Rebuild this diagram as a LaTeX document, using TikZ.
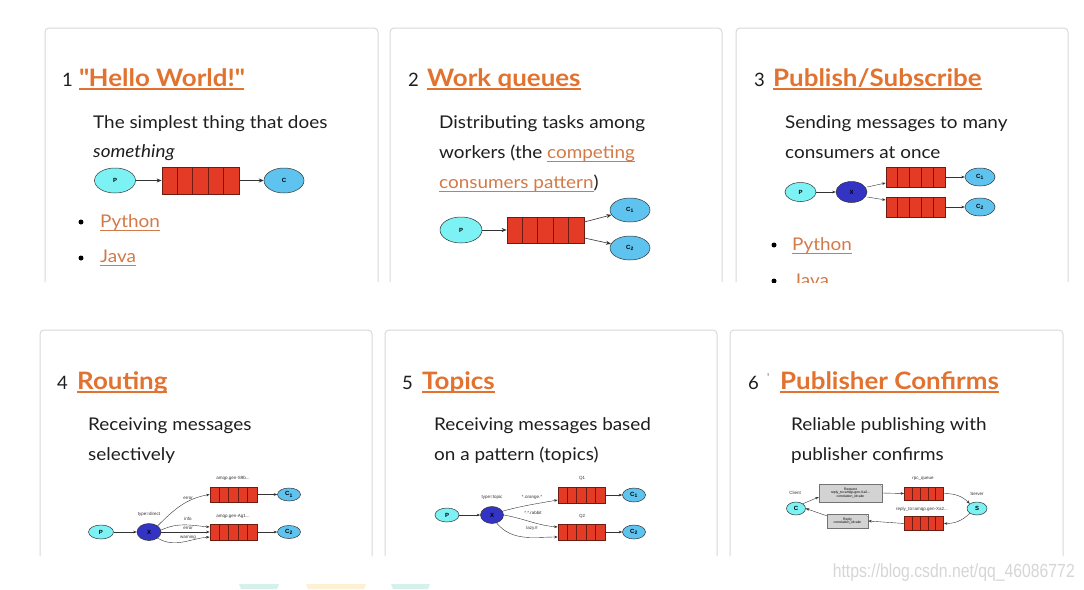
\documentclass[tikz,border=0pt]{standalone}
\usepackage{fontspec}
\setmainfont{Lato}
\newfontfamily\widefont[FakeStretch=1.08]{Lato}
\newfontfamily\dgfont{Liberation Sans}
\newfontfamily\wmfont{Liberation Sans}
\usetikzlibrary{shapes.geometric,arrows.meta,calc}
\definecolor{orangeT}{HTML}{E2722F}
\definecolor{linkc}{HTML}{D27A48}
\definecolor{bodyc}{HTML}{1E1E1E}
\definecolor{panelb}{HTML}{D9D9D9}
\definecolor{pcyan}{HTML}{7DF2F5}
\definecolor{cblue}{HTML}{5EC3EE}
\definecolor{qred}{HTML}{E43B27}
\definecolor{qborder}{HTML}{6E1C12}
\definecolor{xblue}{HTML}{3434C4}
\definecolor{dgline}{HTML}{333333}
\definecolor{boxgray}{HTML}{D3D3D3}
\definecolor{wmc}{HTML}{D6D6D6}
\definecolor{tealA}{HTML}{D4F1EC}
\definecolor{yelA}{HTML}{FDF0D3}
\newcommand\ultitle[1]{\setbox0\hbox{#1}\rlap{\rule[-3.5pt]{\wd0}{1.8pt}}\box0}
\newcommand\ullink[1]{\setbox0\hbox{#1}\rlap{\rule[-3.5pt]{\wd0}{0.9pt}}\box0}
\begin{document}
\begin{tikzpicture}[x=1pt,y=-1pt,
 panel/.style={draw=panelb, line width=1pt, rounded corners=4pt},
 num/.style={anchor=base west, inner sep=0, font=\fontsize{18.5}{22}\selectfont, text=bodyc},
 title/.style={anchor=base west, inner sep=0, font=\widefont\fontsize{24}{26}\selectfont\bfseries, text=orangeT},
 body/.style={anchor=base west, inner sep=0, font=\widefont\fontsize{17.5}{20}\selectfont, text=bodyc},
 link/.style={body, text=linkc},
 bullet/.style={circle, fill=black, inner sep=0, minimum size=5pt},
 pn/.style={ellipse, draw=dgline, line width=0.5pt, fill=pcyan, inner sep=0, font=\dgfont\fontsize{6}{6}\selectfont\bfseries},
 cn/.style={pn, fill=cblue},
 xn/.style={pn, fill=xblue},
 queue/.style={rectangle, draw=qborder, line width=0.8pt, fill=qred, inner sep=0,
   path picture={\foreach \k in {1,2,3,4}{\draw[qborder, line width=0.7pt]
     ($(path picture bounding box.south west)!\k/5!(path picture bounding box.south east)$) --
     ($(path picture bounding box.north west)!\k/5!(path picture bounding box.north east)$);}}},
 arr/.style={draw=dgline, line width=0.6pt, -{Stealth[length=5pt,width=4pt]}},
 sarr/.style={draw=dgline, line width=0.4pt, -{Stealth[length=3.5pt,width=2.6pt]}},
 lbl/.style={inner sep=0, font=\dgfont\fontsize{4.5}{5}\selectfont, text=black!80},
 gbox/.style={rectangle, draw=black!55, line width=0.4pt, fill=boxgray, inner sep=0.5pt, align=center,
   font=\dgfont\fontsize{3.4}{3.8}\selectfont,
   path picture={\fill[white] (path picture bounding box.north east) -- ++(-3pt,0pt) -- ++(3pt,-3pt) -- cycle;
     \draw[black!55, line width=0.3pt] ([xshift=-3pt]path picture bounding box.north east) -- ([yshift=-3pt]path picture bounding box.north east);}},
]
\useasboundingbox (0,0) rectangle (1084,589);
\fill[white] (0,0) rectangle (1084,589);

% ---------- Panel 1
\draw[panel] (45,282) -- (45,28) -- (378,28) -- (378,282);
\node[num] (n1) at (62,86) {1};
\node[title] (t1) at (79,86) {\ultitle{\textquotedbl Hello World!\textquotedbl}};
\node[body] (d1a) at (93,128) {The simplest thing that does};
\node[body] (d1b) at (93,157) {\itshape something};
\node[pn, minimum width=41, minimum height=25] (p1) at (115,180.5) {P};
\node[queue, minimum width=77, minimum height=27] (q1) at (200.5,180.5) {};
\node[cn, minimum width=40, minimum height=25] (c1) at (284,180.5) {C};
\draw[arr] (p1) -- (q1);
\draw[arr] (q1) -- (c1);
\node[bullet] (b1a) at (81,222) {};
\node[link] (l1a) at (100,227) {\ullink{Python}};
\node[bullet] (b1b) at (81,258) {};
\node[link] (l1b) at (100,262) {\ullink{Java}};

% ---------- Panel 2
\draw[panel] (390,282) -- (390,28) -- (722,28) -- (722,282);
\node[num] (n2) at (408,86) {2};
\node[title] (t2) at (427,86) {\ultitle{Work queues}};
\node[body] (d2a) at (439,128) {Distributing tasks among};
\node[body] (d2b) at (439,158) {workers (the \textcolor{linkc}{\ullink{competing}}};
\node[body] (d2c) at (439,188) {\textcolor{linkc}{\ullink{consumers pattern}})};
\node[pn, minimum width=42, minimum height=26] (p2) at (461,230) {P};
\node[queue, minimum width=77, minimum height=26] (q2) at (545.5,230) {};
\node[cn, minimum width=40, minimum height=24] (c21) at (630,210) {C\textsubscript{1}};
\node[cn, minimum width=40, minimum height=24] (c22) at (630,248) {C\textsubscript{2}};
\draw[arr] (p2) -- (q2);
\draw[arr] ([yshift=8pt]q2.east) -- (c21);
\draw[arr] ([yshift=-8pt]q2.east) -- (c22);

% ---------- Panel 3
\draw[panel] (736,282) -- (736,28) -- (1068,28) -- (1068,282);
\node[num] (n3) at (754,86) {3};
\node[title] (t3) at (773,86) {\ultitle{Publish/Subscribe}};
\node[body] (d3a) at (785,128) {Sending messages to many};
\node[body] (d3b) at (785,158) {consumers at once};
\node[pn, minimum width=31, minimum height=19] (p3) at (800.5,192) {P};
\node[xn, minimum width=31, minimum height=21] (x3) at (851.5,192) {X};
\node[queue, minimum width=59, minimum height=20] (q31) at (915.5,177) {};
\node[queue, minimum width=59, minimum height=20] (q32) at (915.5,207) {};
\node[cn, minimum width=30, minimum height=18] (c31) at (980,177) {C\textsubscript{1}};
\node[cn, minimum width=30, minimum height=18] (c32) at (980,207) {C\textsubscript{2}};
\draw[sarr] (p3) -- (x3);
\draw[sarr] ([yshift=5pt]x3.east) -- ([yshift=-6pt]q31.west);
\draw[sarr] ([yshift=-5pt]x3.east) -- ([yshift=7pt]q32.west);
\draw[sarr] (q31) -- (c31);
\draw[sarr] (q32) -- (c32);
\node[bullet] (b3a) at (774,245) {};
\node[link] (l3a) at (792,250) {\ullink{Python}};
\node[bullet] (b3b) at (774,281) {};
\node[link] (l3b) at (793,286) {\ullink{Java}};

\fill[white] (0,283) rectangle (1084,326);

% ---------- Panel 4
\draw[panel] (40,556) -- (40,330) -- (372,330) -- (372,556);
\node[num] (n4) at (57,389) {4};
\node[title] (t4) at (77,389) {\ultitle{Routing}};
\node[body] (d4a) at (88,430) {Receiving messages};
\node[body] (d4b) at (88,460) {selectively};
\node[pn, minimum width=25, minimum height=14] (p4) at (101,532) {P};
\node[xn, minimum width=24, minimum height=17] (x4) at (149,532) {X};
\node[queue, minimum width=47, minimum height=15] (q41) at (233.5,494.5) {};
\node[queue, minimum width=47, minimum height=16] (q42) at (233.5,532) {};
\node[cn, minimum width=23, minimum height=13] (c41) at (289,494.5) {C\textsubscript{1}};
\node[cn, minimum width=23, minimum height=13] (c42) at (289,532) {C\textsubscript{2}};
\draw[sarr] (p4) -- (x4);
\draw[sarr] (x4.north east) to[out=45,in=190] (q41.west);
\draw[sarr] ([yshift=2pt]x4.east) to[out=25,in=175] ([yshift=5pt]q42.west);
\draw[sarr] (x4.east) -- (q42.west);
\draw[sarr] (x4.south east) to[out=-30,in=185] ([yshift=-5pt]q42.west);
\draw[sarr] (q41) -- (c41);
\draw[sarr] (q42) -- (c42);
\node[lbl] (a41) at (233,478) {amqp.gen-S9b...};
\node[lbl] (a42) at (233,516) {amqp.gen-Ag1...};
\node[lbl] (e41) at (188,498) {error};
\node[lbl] (td4) at (149,514) {type=direct};
\node[lbl] (i4) at (188,519) {info};
\node[lbl] (e42) at (188,528) {error};
\node[lbl] (w4) at (188,537.5) {warning};

% ---------- Panel 5
\draw[panel] (385,556) -- (385,330) -- (717,330) -- (717,556);
\node[num] (n5) at (402,389) {5};
\node[title] (t5) at (422,389) {\ultitle{Topics}};
\node[body] (d5a) at (434,430) {Receiving messages based};
\node[body] (d5b) at (434,460) {on a pattern (topics)};
\node[pn, minimum width=24, minimum height=14] (p5) at (447,515) {P};
\node[xn, minimum width=23, minimum height=17] (x5) at (492,515) {X};
\node[queue, minimum width=47, minimum height=16] (q51) at (581.5,495) {};
\node[queue, minimum width=47, minimum height=16] (q52) at (581.5,532) {};
\node[cn, minimum width=23, minimum height=14] (c51) at (634,495) {C\textsubscript{1}};
\node[cn, minimum width=23, minimum height=14] (c52) at (634,532) {C\textsubscript{2}};
\draw[sarr] (p5) -- (x5);
\draw[sarr] (x5.20) to[out=15,in=190] ([yshift=-5pt]q51.west);
\draw[sarr] (x5.east) to[out=-10,in=175] ([yshift=5pt]q52.west);
\draw[sarr] (x5.-60) to[out=-50,in=180] ([yshift=-5pt]q52.west);
\draw[sarr] (q51) -- (c51);
\draw[sarr] (q52) -- (c52);
\node[lbl] (q1l) at (582,478) {Q1};
\node[lbl] (q2l) at (582,516) {Q2};
\node[lbl] (tt5) at (492,497) {type=topic};
\node[lbl] (o5) at (532,497) {*.orange.*};
\node[lbl] (r5) at (533,513) {*.*.rabbit};
\node[lbl] (z5) at (532,528) {lazy.\#};

% ---------- Panel 6
\draw[panel] (730,556) -- (730,330) -- (1063,330) -- (1063,556);
\node[num] (n6) at (748,389) {6};
\node[anchor=base west, inner sep=0, font=\fontsize{11}{11}\selectfont, text=black!55] (tk6) at (767,381) {\textquotesingle};
\node[title] (t6) at (780,389) {\ultitle{Publisher Confirms}};
\node[body] (d6a) at (791,430) {Reliable publishing with};
\node[body] (d6b) at (791,460) {publisher confirms};
\node[pn, minimum width=19, minimum height=13] (c6) at (796,508.5) {C};
\node[lbl] (cl6) at (795,493) {Client};
\node[gbox, minimum width=63, minimum height=18] (rq6) at (850.5,493) {Request\\reply\_to=amqp.gen-Xa2...\\correlation\_id=abc};
\node[queue, minimum width=39, minimum height=13] (q61) at (924,493.5) {};
\node[lbl] (rl6) at (923,479) {rpc\_queue};
\node[pn, minimum width=20, minimum height=13] (s6) at (977,508.5) {S};
\node[lbl] (sl6) at (977,494) {Server};
\node[queue, minimum width=39, minimum height=14] (q62) at (924,523.5) {};
\node[lbl] (rl62) at (922,509) {reply\_to=amqp.gen-Xa2...};
\node[gbox, minimum width=41, minimum height=14] (rp6) at (847.5,521) {Reply\\correlation\_id=abc};
\draw[sarr] (c6.north east) -- ([yshift=-4pt]rq6.west);
\draw[sarr] (rq6.east) -- (q61.west);
\draw[sarr] (q61.east) to[out=0,in=135] (s6.north west);
\draw[sarr] (s6.south west) to[out=-135,in=0] (q62.east);
\draw[sarr] (q62.west) -- (rp6.east);
\draw[sarr] ([yshift=-2pt]rp6.north west) -- (c6.east);

% ---------- footer
\fill[tealA] (239,584) -- (279,584) -- (277,589) -- (241,589) -- cycle;
\fill[yelA] (306,584) -- (366,584) -- (364,589) -- (308,589) -- cycle;
\fill[tealA] (391,584) -- (430,584) -- (428,589) -- (393,589) -- cycle;
\node[anchor=base east, inner sep=0, font=\wmfont\fontsize{19}{20}\selectfont, text=wmc] (wm) at (1075,577) {\scalebox{0.83}[1]{https://blog.csdn.net/qq\_46086772}};
\end{tikzpicture}
\end{document}
